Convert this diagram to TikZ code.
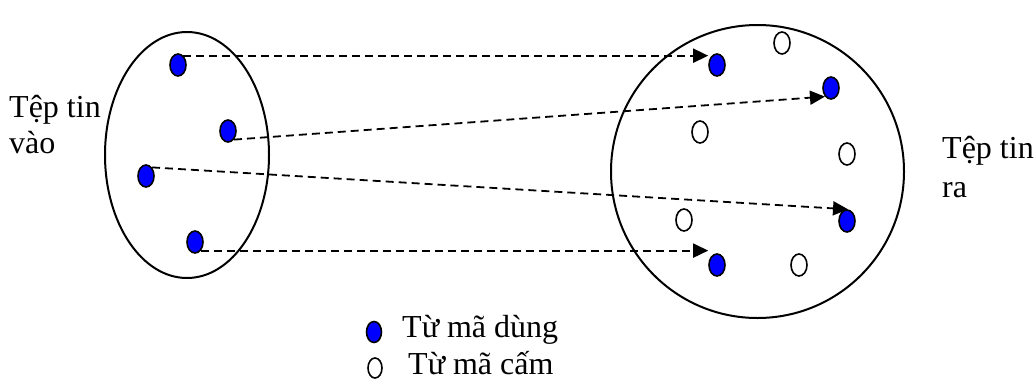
\documentclass[tikz,border=0pt]{standalone}
\usepackage{fontspec}
\setmainfont{Liberation Serif}
\usetikzlibrary{arrows.meta,shapes.geometric}
\begin{document}
\begin{tikzpicture}[x=1pt,y=-1pt,
  usedot/.style={ellipse,draw,line width=1.6pt,fill=blue,minimum width=16pt,minimum height=22pt,inner sep=0pt},
  bandot/.style={ellipse,draw,line width=1.6pt,fill=white,minimum width=16pt,minimum height=22pt,inner sep=0pt},
  arr/.style={line width=1.8pt,dash pattern=on 8pt off 5pt,-{Triangle[length=15pt,width=14pt]}},
  lbl/.style={inner sep=0pt,font=\fontsize{32}{36}\selectfont},
  set/.style={draw,line width=2pt}]
\useasboundingbox (0,0) rectangle (1036,381);
% sets
\node[set,ellipse,minimum width=164pt,minimum height=246pt,inner sep=0pt] (inset) at (187,155) {};
\node[set,circle,minimum size=293pt,inner sep=0pt] (outset) at (757.5,171.5) {};
% left dots
\node[usedot] (l1) at (178,65) {};
\node[usedot] (l2) at (228,131) {};
\node[usedot] (l3) at (146,176) {};
\node[usedot] (l4) at (195,242) {};
% right dots
\node[usedot] (r1) at (717,65) {};
\node[usedot] (r2) at (831,88) {};
\node[usedot] (r3) at (847,221) {};
\node[usedot] (r4) at (717,265) {};
\node[bandot] (w1) at (782,43) {};
\node[bandot] (w2) at (700,132) {};
\node[bandot] (w3) at (847,154) {};
\node[bandot] (w4) at (684,220) {};
\node[bandot] (w5) at (799,265) {};
% arrows
\draw[arr] (l1.60) -- (l1.60 -| r1.west);
\draw[arr] (l2.-55) -- (r2.-125);
\draw[arr] (l3.55) -- (r3.85);
\draw[arr] (l4.-55) -- (l4.-55 -| r4.west);
% labels
\node[lbl,anchor=base west] (in1) at (9,117) {Tệp tin};
\node[lbl,anchor=base west] (in2) at (9,153) {vào};
\node[lbl,anchor=base west] (out1) at (942,158) {Tệp tin};
\node[lbl,anchor=base west] (out2) at (942,197) {ra};
% legend
\node[usedot,minimum width=15pt,minimum height=21pt] (k1) at (374,332) {};
\node[lbl,anchor=base west] (k1t) at (402,337) {Từ mã dùng};
\node[bandot,minimum width=14pt,minimum height=20pt] (k2) at (375,368) {};
\node[lbl,anchor=base west] (k2t) at (408,374) {Từ mã cấm};
\end{tikzpicture}
\end{document}
